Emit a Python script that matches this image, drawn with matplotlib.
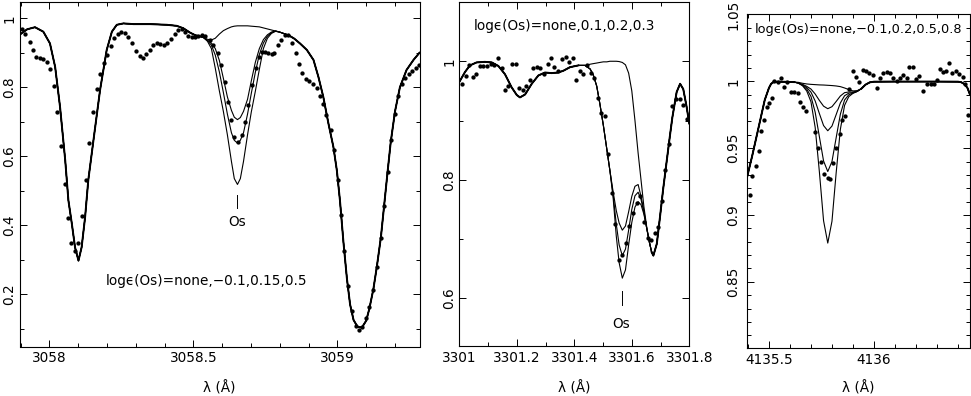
import matplotlib
matplotlib.use("Agg")
import matplotlib.pyplot as plt
from matplotlib.ticker import MultipleLocator, FuncFormatter

# ---------------- Panel 1 (Os 3058.66) ----------------
p1_obs_x = [3057.904, 3057.916, 3057.931, 3057.942, 3057.954, 3057.968, 3057.979, 3057.991, 3058.002, 3058.016,
            3058.028, 3058.040, 3058.053, 3058.064, 3058.075, 3058.089, 3058.101, 3058.114, 3058.126, 3058.139,
            3058.151, 3058.165, 3058.176, 3058.188, 3058.199, 3058.213, 3058.225, 3058.238, 3058.249, 3058.263,
            3058.274, 3058.288, 3058.300, 3058.313, 3058.324, 3058.336, 3058.350, 3058.361, 3058.373, 3058.384,
            3058.398, 3058.410, 3058.423, 3058.436, 3058.448, 3058.460, 3058.471, 3058.483, 3058.494, 3058.506,
            3058.517, 3058.529, 3058.541, 3058.558, 3058.569, 3058.585, 3058.596, 3058.608, 3058.619, 3058.631,
            3058.642, 3058.654, 3058.668, 3058.680, 3058.691, 3058.705, 3058.717, 3058.728, 3058.738, 3058.749,
            3058.758, 3058.772, 3058.781, 3058.795, 3058.805, 3058.818, 3058.830, 3058.844, 3058.856, 3058.867,
            3058.878, 3058.890, 3058.903, 3058.915, 3058.928, 3058.940, 3058.951, 3058.962, 3058.977, 3058.989,
            3059.001, 3059.012, 3059.024, 3059.038, 3059.050, 3059.064, 3059.075, 3059.087, 3059.100, 3059.111,
            3059.125, 3059.137, 3059.151, 3059.162, 3059.174, 3059.185, 3059.200, 3059.212, 3059.224, 3059.235,
            3059.247, 3059.260, 3059.272, 3059.284]
p1_obs_y = [0.968, 0.953, 0.930, 0.908, 0.888, 0.884, 0.882, 0.874, 0.852, 0.803,
            0.728, 0.630, 0.520, 0.420, 0.348, 0.324, 0.349, 0.426, 0.532, 0.638,
            0.728, 0.794, 0.838, 0.869, 0.893, 0.920, 0.944, 0.954, 0.961, 0.958,
            0.947, 0.927, 0.905, 0.891, 0.885, 0.895, 0.908, 0.922, 0.927, 0.924,
            0.922, 0.929, 0.940, 0.953, 0.966, 0.969, 0.961, 0.949, 0.947, 0.947,
            0.949, 0.951, 0.949, 0.937, 0.922, 0.898, 0.864, 0.816, 0.758, 0.704,
            0.656, 0.641, 0.661, 0.699, 0.748, 0.806, 0.855, 0.887, 0.903, 0.903,
            0.898, 0.896, 0.898, 0.922, 0.937, 0.951, 0.951, 0.929, 0.898, 0.866,
            0.842, 0.824, 0.818, 0.808, 0.797, 0.775, 0.751, 0.719, 0.675, 0.617,
            0.532, 0.430, 0.324, 0.223, 0.150, 0.108, 0.096, 0.106, 0.130, 0.162,
            0.213, 0.278, 0.362, 0.455, 0.554, 0.646, 0.721, 0.774, 0.809, 0.828,
            0.837, 0.847, 0.856, 0.864]

p1_left_x = [3057.898, 3057.923, 3057.950, 3057.979, 3058.002, 3058.020, 3058.037, 3058.055, 3058.066, 3058.078,
             3058.089, 3058.101, 3058.112, 3058.124, 3058.135, 3058.153, 3058.176, 3058.199, 3058.217, 3058.234,
             3058.257, 3058.292, 3058.350, 3058.408, 3058.442, 3058.465, 3058.489, 3058.506, 3058.525]
p1_left_y = [0.953, 0.968, 0.974, 0.961, 0.927, 0.859, 0.743, 0.588, 0.472, 0.404,
             0.336, 0.297, 0.336, 0.423, 0.530, 0.646, 0.792, 0.908, 0.961, 0.981,
             0.985, 0.983, 0.983, 0.981, 0.978, 0.971, 0.958, 0.951, 0.947]
p1_os_x = [3058.535, 3058.549, 3058.5625, 3058.576, 3058.590, 3058.604, 3058.618, 3058.632, 3058.642, 3058.653,
           3058.663, 3058.674, 3058.688, 3058.701, 3058.715, 3058.729, 3058.743, 3058.757, 3058.771, 3058.785,
           3058.799]
p1_none = [0.944, 0.939, 0.937, 0.942, 0.954, 0.964, 0.970, 0.975, 0.977, 0.978,
           0.978, 0.978, 0.978, 0.977, 0.976, 0.975, 0.972, 0.969, 0.966, 0.963, 0.960]
p1_m010 = [0.944, 0.936, 0.928, 0.912, 0.878, 0.826, 0.772, 0.733, 0.713, 0.706,
           0.712, 0.730, 0.765, 0.818, 0.872, 0.912, 0.938, 0.952, 0.960, 0.963, 0.960]
p1_p015 = [0.944, 0.935, 0.922, 0.893, 0.845, 0.785, 0.722, 0.668, 0.646, 0.638,
           0.646, 0.668, 0.722, 0.782, 0.843, 0.895, 0.928, 0.948, 0.958, 0.963, 0.960]
p1_p050 = [0.944, 0.933, 0.912, 0.855, 0.790, 0.730, 0.662, 0.585, 0.535, 0.518,
           0.535, 0.585, 0.662, 0.728, 0.788, 0.852, 0.912, 0.942, 0.956, 0.962, 0.960]
p1_right_x = [3058.830, 3058.850, 3058.870, 3058.894, 3058.917, 3058.934, 3058.951, 3058.969, 3058.986, 3058.998,
              3059.009, 3059.021, 3059.033, 3059.044, 3059.056, 3059.070, 3059.085, 3059.100, 3059.111, 3059.125,
              3059.137, 3059.151, 3059.162, 3059.174, 3059.185, 3059.200, 3059.217, 3059.240, 3059.264, 3059.285]
p1_right_y = [0.951, 0.941, 0.927, 0.908, 0.879, 0.830, 0.772, 0.694, 0.627, 0.559,
              0.470, 0.350, 0.245, 0.170, 0.125, 0.105, 0.103, 0.123, 0.158, 0.215,
              0.280, 0.365, 0.455, 0.553, 0.640, 0.730, 0.800, 0.850, 0.879, 0.900]
p1_label = "log\u03f5(Os)=none,\u22120.1,0.15,0.5"

# ---------------- Panel 2 (Os 3301.57) ----------------
p2_obs_x = [3301.010, 3301.022, 3301.035, 3301.047, 3301.058, 3301.072, 3301.083, 3301.095, 3301.109, 3301.121,
            3301.134, 3301.147, 3301.159, 3301.170, 3301.184, 3301.197, 3301.209, 3301.221, 3301.232, 3301.246,
            3301.257, 3301.269, 3301.281, 3301.295, 3301.307, 3301.319, 3301.330, 3301.344, 3301.356, 3301.370,
            3301.383, 3301.394, 3301.406, 3301.420, 3301.431, 3301.443, 3301.457, 3301.469, 3301.481, 3301.493,
            3301.507, 3301.518, 3301.530, 3301.543, 3301.556, 3301.567, 3301.579, 3301.591, 3301.604, 3301.617,
            3301.628, 3301.642, 3301.655, 3301.667, 3301.680, 3301.692, 3301.704, 3301.717, 3301.728, 3301.741,
            3301.754, 3301.768, 3301.779, 3301.793]
p2_obs_y = [0.961, 0.975, 0.993, 0.973, 0.978, 0.992, 0.992, 0.992, 0.996, 0.993,
            1.005, 0.988, 0.952, 0.958, 0.996, 0.995, 0.955, 0.951, 0.958, 0.968,
            0.989, 0.990, 0.988, 0.978, 0.996, 1.005, 0.990, 0.984, 1.003, 1.008,
            0.999, 1.005, 0.968, 0.984, 0.978, 0.994, 0.981, 0.972, 0.938, 0.913,
            0.908, 0.844, 0.777, 0.726, 0.665, 0.673, 0.694, 0.722, 0.744, 0.760,
            0.773, 0.729, 0.701, 0.698, 0.710, 0.721, 0.764, 0.816, 0.861, 0.924,
            0.936, 0.936, 0.926, 0.903]

p2_left_x = [3301.000, 3301.020, 3301.037, 3301.060, 3301.089, 3301.113, 3301.136, 3301.159, 3301.182, 3301.200,
             3301.211, 3301.229, 3301.252, 3301.275, 3301.298, 3301.321, 3301.344, 3301.362, 3301.385, 3301.414]
p2_left_y = [0.965, 0.982, 0.993, 0.998, 0.999, 0.998, 0.992, 0.978, 0.956, 0.943,
             0.939, 0.944, 0.962, 0.976, 0.981, 0.980, 0.981, 0.984, 0.990, 0.993]
p2_os_x = [3301.437, 3301.455, 3301.466, 3301.478, 3301.489, 3301.501, 3301.513, 3301.524, 3301.535, 3301.546,
           3301.556, 3301.567, 3301.578, 3301.589, 3301.600, 3301.611, 3301.622, 3301.632, 3301.642, 3301.652,
           3301.661]
p2_none = [0.993, 0.995, 0.996, 0.997, 0.998, 0.999, 0.999, 1.000, 1.000, 1.000,
           0.9995, 0.998, 0.994, 0.980, 0.950, 0.900, 0.845, 0.800, 0.755, 0.720, 0.695]
p2_p01 = [0.993, 0.987, 0.977, 0.958, 0.928, 0.892, 0.852, 0.815, 0.780, 0.748,
          0.727, 0.715, 0.722, 0.746, 0.772, 0.789, 0.792, 0.772, 0.748, 0.718, 0.695]
p2_p02 = [0.993, 0.987, 0.977, 0.958, 0.928, 0.892, 0.852, 0.815, 0.775, 0.725,
          0.690, 0.672, 0.683, 0.715, 0.750, 0.773, 0.779, 0.767, 0.745, 0.718, 0.695]
p2_p03 = [0.993, 0.987, 0.977, 0.958, 0.928, 0.892, 0.852, 0.815, 0.770, 0.705,
          0.660, 0.634, 0.648, 0.690, 0.728, 0.754, 0.763, 0.758, 0.742, 0.718, 0.695]
p2_right_x = [3301.669, 3301.675, 3301.687, 3301.698, 3301.709, 3301.721, 3301.732, 3301.741, 3301.756, 3301.768,
              3301.779, 3301.790, 3301.800]
p2_right_y = [0.678, 0.672, 0.692, 0.737, 0.784, 0.830, 0.872, 0.905, 0.948, 0.962,
              0.953, 0.925, 0.895]
p2_label = "log\u03f5(Os)=none,0.1,0.2,0.3"

# ---------------- Panel 3 (Os 4135.78) ----------------
p3_obs_x = [4135.410, 4135.421, 4135.438, 4135.451, 4135.462, 4135.476, 4135.489, 4135.501, 4135.513, 4135.525,
            4135.541, 4135.557, 4135.571, 4135.588, 4135.606, 4135.621, 4135.636, 4135.648, 4135.662, 4135.676,
            4135.721, 4135.733, 4135.748, 4135.764, 4135.779, 4135.792, 4135.806, 4135.819, 4135.836, 4135.849,
            4135.863, 4135.883, 4135.899, 4135.914, 4135.930, 4135.946, 4135.962, 4135.978, 4135.994, 4136.013,
            4136.029, 4136.044, 4136.060, 4136.076, 4136.092, 4136.108, 4136.124, 4136.140, 4136.156, 4136.168,
            4136.184, 4136.198, 4136.214, 4136.235, 4136.254, 4136.270, 4136.286, 4136.301, 4136.314, 4136.327,
            4136.343, 4136.359, 4136.373, 4136.390, 4136.406, 4136.422, 4136.433, 4136.449]
p3_obs_y = [0.915, 0.929, 0.937, 0.948, 0.9625, 0.971, 0.9805, 0.984, 0.9875, 1.000,
            0.9996, 1.0028, 0.996, 0.9996, 0.992, 0.9918, 0.991, 0.9845, 0.981, 0.978,
            0.9623, 0.9503, 0.9395, 0.9305, 0.9278, 0.9267, 0.9389, 0.950, 0.9604, 0.9708,
            0.9738, 0.994, 1.0075, 1.0032, 0.9995, 1.0083, 1.0077, 1.0062, 1.0045, 0.9953,
            1.0028, 1.0062, 1.007, 1.0062, 1.0028, 1.000, 1.0028, 1.0045, 1.0028, 1.0107,
            1.0107, 1.002, 1.0037, 0.9927, 0.998, 0.998, 0.998, 1.0007, 1.0095, 1.007,
            1.0077, 1.014, 1.0062, 1.0077, 1.0058, 1.0032, 0.998, 0.9745]

p3_left_x = [4135.397, 4135.42, 4135.44, 4135.46, 4135.48, 4135.50, 4135.51, 4135.52, 4135.54, 4135.58, 4135.62]
p3_left_y = [0.929, 0.944, 0.958, 0.972, 0.986, 0.995, 0.998, 0.9993, 0.9997, 0.9996, 0.9994]
p3_os_x = [4135.64, 4135.66, 4135.68, 4135.70, 4135.72, 4135.74, 4135.76, 4135.78, 4135.80, 4135.82,
           4135.84, 4135.86, 4135.88, 4135.90, 4135.92]
p3_none = [0.9992, 0.9985, 0.998, 0.9977, 0.9975, 0.9973, 0.9972, 0.997, 0.9968, 0.9965,
           0.996, 0.995, 0.9938, 0.9928, 0.993]
p3_m010 = [0.9988, 0.9977, 0.9962, 0.9942, 0.9905, 0.9857, 0.9814, 0.9795, 0.981, 0.9849,
           0.989, 0.9915, 0.992, 0.992, 0.9926]
p3_p020 = [0.9987, 0.9973, 0.9953, 0.9919, 0.9853, 0.9759, 0.9669, 0.963, 0.9665, 0.9751,
           0.9838, 0.9892, 0.9911, 0.9916, 0.9925]
p3_p050 = [0.9986, 0.9969, 0.9941, 0.9887, 0.9769, 0.9586, 0.9404, 0.9325, 0.940, 0.9578,
           0.9754, 0.986, 0.9899, 0.9912, 0.9924]
p3_p080 = [0.9986, 0.9967, 0.9927, 0.9847, 0.9656, 0.9324, 0.8957, 0.879, 0.8953, 0.9316,
           0.9641, 0.982, 0.9885, 0.991, 0.9924]
p3_right_x = [4135.94, 4135.96, 4135.98, 4136.00, 4136.10, 4136.20, 4136.30, 4136.40, 4136.415, 4136.43,
              4136.445, 4136.457]
p3_right_y = [0.9945, 0.9975, 0.9992, 0.9997, 0.9998, 0.9998, 0.9998, 0.9997, 0.9993, 0.998,
              0.995, 0.990]
p3_label = "log\u03f5(Os)=none,\u22120.1,0.2,0.5,0.8"

FS = 9.8
plt.rcParams['font.family'] = ['DejaVu Sans']

fig = plt.figure(figsize=(9.71, 3.96), dpi=100)
W, H = 971.0, 396.0


def make_ax(l, r, t, b):
    return fig.add_axes([l / W, 1 - b / H, (r - l) / W, (b - t) / H])


ax1 = make_ax(20, 419.5, 1.7, 346.5)
ax2 = make_ax(459.3, 689.3, 2, 345.7)
ax3 = make_ax(747.3, 970, 14.3, 348.3)

fmt = FuncFormatter(lambda v, p: "%g" % round(v, 6))


def style(ax, xmaj, xmin, ymaj, ymin, ypad):
    ax.xaxis.set_major_locator(MultipleLocator(xmaj))
    ax.xaxis.set_minor_locator(MultipleLocator(xmin))
    ax.yaxis.set_major_locator(MultipleLocator(ymaj))
    ax.yaxis.set_minor_locator(MultipleLocator(ymin))
    ax.xaxis.set_major_formatter(fmt)
    ax.yaxis.set_major_formatter(fmt)
    ax.tick_params(which='both', direction='in', top=True, right=True, width=0.7, colors='black')
    ax.tick_params(which='major', length=5.2)
    ax.tick_params(which='minor', length=2.6)
    ax.tick_params(axis='x', which='major', pad=3.5, labelsize=FS)
    ax.tick_params(axis='y', which='major', pad=ypad, labelsize=FS, labelrotation=90)
    for lbl in ax.get_yticklabels():
        lbl.set_va('center')
    for s in ax.spines.values():
        s.set_linewidth(0.8)


LW = 0.8
LWC = 1.4
MS = 3.1

# Panel 1
for curve in (p1_none, p1_m010, p1_p015, p1_p050):
    ax1.plot(p1_left_x + p1_os_x + p1_right_x, p1_left_y + curve + p1_right_y, color='black', lw=LW)
ax1.plot(p1_left_x, p1_left_y, color='black', lw=LWC)
ax1.plot(p1_right_x, p1_right_y, color='black', lw=LWC)
ax1.plot(p1_obs_x, p1_obs_y, 'o', color='black', ms=MS, mec='none')
ax1.set_xlim(3057.898, 3059.285)
ax1.set_ylim(0.048, 1.048)
ax1.plot([3058.653, 3058.653], [0.451, 0.487], color='black', lw=0.7)
ax1.text(3058.652, 0.409, "Os", ha='center', va='center', fontsize=FS)
ax1.text(3058.545, 0.239, p1_label, ha='center', va='center', fontsize=FS)
style(ax1, 0.5, 0.1, 0.2, 0.1, 2.7)

# Panel 2
for curve in (p2_none, p2_p01, p2_p02, p2_p03):
    ax2.plot(p2_left_x + p2_os_x + p2_right_x, p2_left_y + curve + p2_right_y, color='black', lw=LW)
ax2.plot(p2_left_x, p2_left_y, color='black', lw=LWC)
ax2.plot(p2_right_x, p2_right_y, color='black', lw=LWC)
ax2.plot(p2_obs_x, p2_obs_y, 'o', color='black', ms=MS, mec='none')
ax2.set_xlim(3301.0, 3301.8)
ax2.set_ylim(0.52, 1.10)
ax2.plot([3301.567, 3301.567], [0.588, 0.612], color='black', lw=0.7)
ax2.text(3301.5625, 0.556, "Os", ha='center', va='center', fontsize=FS)
ax2.text(3301.365, 1.059, p2_label, ha='center', va='center', fontsize=FS)
style(ax2, 0.2, 0.1, 0.2, 0.1, 2.2)

# Panel 3
for curve in (p3_none, p3_m010, p3_p020, p3_p050, p3_p080):
    ax3.plot(p3_left_x + p3_os_x + p3_right_x, p3_left_y + curve + p3_right_y, color='black', lw=LW)
ax3.plot(p3_left_x, p3_left_y, color='black', lw=LWC)
ax3.plot(p3_right_x, p3_right_y, color='black', lw=LWC)
ax3.plot(p3_obs_x, p3_obs_y, 'o', color='black', ms=MS, mec='none')
ax3.set_xlim(4135.397, 4136.457)
ax3.set_ylim(0.8003, 1.0501)
ax3.text(4135.432, 1.0388, p3_label, ha='left', va='center', fontsize=9.3)
style(ax3, 0.5, 0.1, 0.05, 0.01, 5.0)

for cx in (219.7, 574.3, 858.7):
    fig.text(cx / W, 1 - 388.3 / H, "\u03bb (\u00c5)", ha='center', va='center', fontsize=FS)

fig.savefig("out.png", dpi=100)
